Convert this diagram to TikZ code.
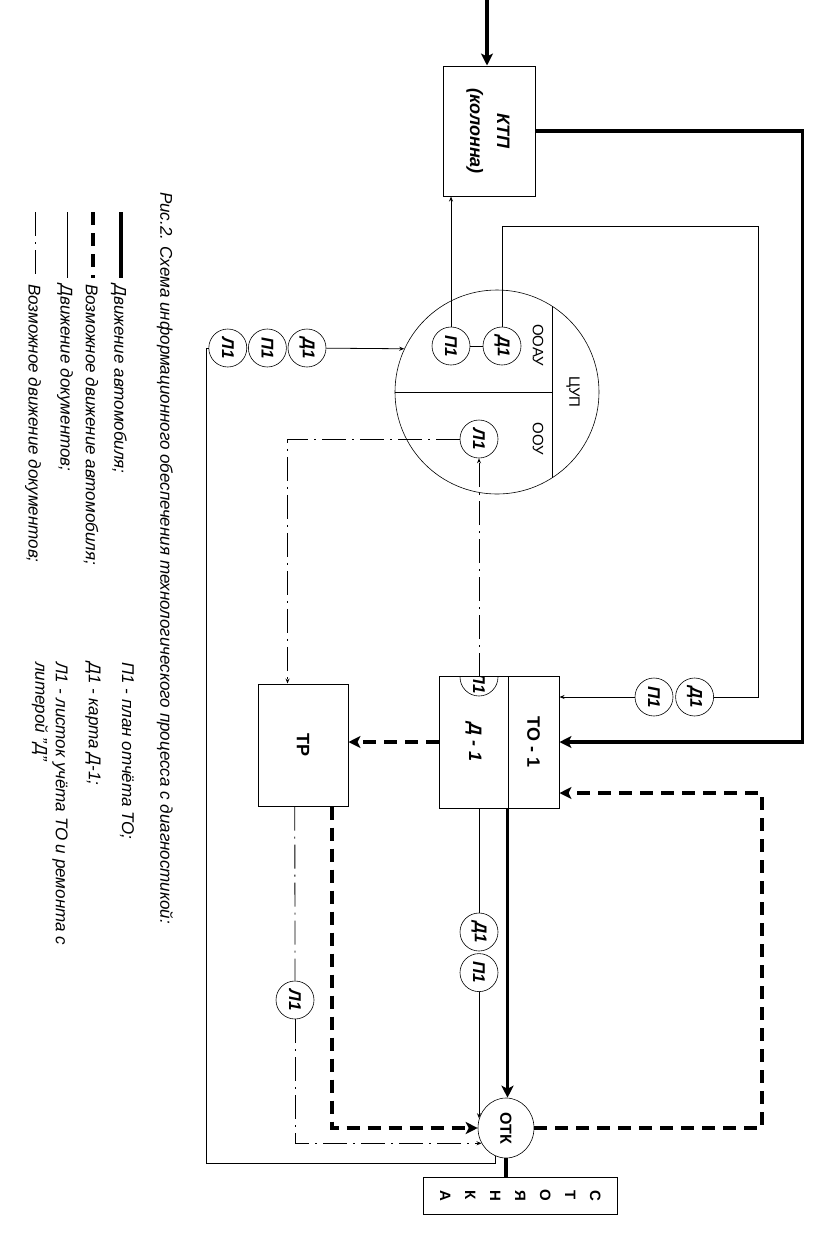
\documentclass[tikz,border=0pt]{standalone}
\usepackage{fontspec}
\setmainfont{Liberation Sans}
\usetikzlibrary{positioning,shapes.geometric,arrows.meta,calc}

\begin{document}
\begin{tikzpicture}[x=1pt,y=-1pt]
	\newcommand*{\vlabel}[1]{\rotatebox{-90}{#1}}
	\tikzset{
		car/.style={line width=3.5pt,>={Stealth[length=12pt,width=12pt,inset=3pt]}},
		carposs/.style={car,dash pattern=on 13pt off 8pt},
		doc/.style={line width=0.8pt,>={Stealth[length=5pt,width=4pt]}},
		docposs/.style={doc,dash pattern=on 24pt off 6pt on 2pt off 6pt},
		blok/.style={draw,line width=1pt,inner sep=0pt,font=\bfseries\fontsize{18}{20}\selectfont},
		circ/.style={draw,circle,line width=0.6pt,inner sep=0pt,minimum size=38pt,font=\bfseries\itshape\fontsize{17}{19}\selectfont},
		zone/.style={inner sep=0pt,font=\fontsize{15}{17}\selectfont},
		legtext/.style={rotate=-90,anchor=west,inner sep=0pt,font=\itshape\fontsize{17}{19}\selectfont}
	}
	\useasboundingbox (0,0) rectangle (839,1240);
	\node[blok,font=\bfseries\itshape\fontsize{18}{27}\selectfont,minimum width=92pt,minimum height=130pt] (ktp) at (489,131) {\vlabel{\begin{tabular}{@{}c@{}}КТП\\(колонна)\end{tabular}}};
	\node[blok,minimum width=51pt,minimum height=132pt] (to1) at (533.5,742) {\vlabel{ТО - 1}};
	\node[blok,font=\bfseries\itshape\fontsize{18}{20}\selectfont,minimum width=69pt,minimum height=132pt] (d1) at (473.5,742) {\vlabel{Д - 1}};
	\node[blok,minimum width=90pt,minimum height=122pt] (tr) at (303,745) {\vlabel{ТР}};
	\node[blok,ellipse,line width=0.6pt,minimum width=56pt,minimum height=60pt,font=\bfseries\fontsize{16}{18}\selectfont] (otk) at (506,1128) {\vlabel{ОТК}};
	\node[blok,minimum width=194pt,minimum height=37pt,font=\bfseries\fontsize{15}{25}\selectfont] (stoyanka) at (520,1195.5) {\vlabel{\begin{tabular}{@{}c@{}}С\\Т\\О\\Я\\Н\\К\\А\end{tabular}}};
	\node[draw,circle,line width=0.6pt,minimum size=204pt,inner sep=0pt] (cup) at (497,392) {};
	\draw[line width=0.8pt] ($(cup.center)+(55,-86)$) -- ($(cup.center)+(55,86)$);
	\draw[line width=0.8pt] (cup.west) -- ($(cup.center)+(55,0)$);
	\node[zone] (cupname) at (573,392) {\vlabel{ЦУП}};
	\node[zone] (ooau) at (538,345) {\vlabel{ООАУ}};
	\node[zone] (oou) at (538,439) {\vlabel{ООУ}};
	\node[circ] (p1a) at (451,346) {\vlabel{П1}};
	\node[circ] (d1a) at (502,346) {\vlabel{Д1}};
	\node[circ] (l1a) at (479,439) {\vlabel{Л1}};
	\node[circ] (d1b) at (307,348) {\vlabel{Д1}};
	\node[circ,left=1pt of d1b] (p1b) {\vlabel{П1}};
	\node[circ,left=1pt of p1b] (l1b) {\vlabel{Л1}};
	\node[circ] (p1c) at (654,697) {\vlabel{П1}};
	\node[circ,right=2pt of p1c] (d1c) {\vlabel{Д1}};
	\node[circ] (d1d) at (479,932) {\vlabel{Д1}};
	\node[circ,below=2pt of d1d] (p1d) {\vlabel{П1}};
	\node[circ] (l1e) at (295,1000) {\vlabel{Л1}};
	\begin{scope}
		\clip (439,676) rectangle (508,808);
		\node[circ] (l1f) at (479,677) {\vlabel{\hspace{12pt}Л1}};
	\end{scope}
	\coordinate (entry) at (487,0);
	\draw[car,->] (entry) -- (entry |- ktp.north);
	\draw[car,->] (ktp.east) -- ++(267,0) |- (to1.east);
	\draw[doc,->] (p1a) -- (p1a |- ktp.south);
	\draw[doc] (p1a) -- (d1a);
	\draw[doc] (d1a) |- (758,226) |- (d1c);
	\draw[doc,->] (p1c) -- (p1c -| to1.east);
	\draw[doc,->] (d1b) -- (cup.155);
	\draw[doc] (otk.250) |- (206,1163) |- (l1b);
	\draw[docposs,->] (l1f.center) -- (l1a);
	\draw[docposs,->] (l1a) -| ($(tr.north west)!0.33!(tr.north east)$);
	\draw[carposs,->] (d1.west) -- (d1.west -| tr.east);
	\draw[car,->] (to1.south west) -- (to1.south west |- otk.north);
	\draw[doc] (d1d |- d1.south) -- (d1d);
	\draw[doc,->] (p1d) -- (p1d |- otk.160);
	\draw[carposs,->] ($(tr.south west)!0.82!(tr.south east)$) |- (otk.west);
	\draw[docposs] ($(tr.south west)!0.41!(tr.south east)$) -- (l1e);
	\draw[docposs,->] (l1e) |- (otk.212);
	\coordinate (loop) at (762,793);
	\draw[carposs,->] (otk.east) -| (loop) -- (loop -| to1.east);
	\draw[car] (otk.south) -- (otk.south |- stoyanka.north);
	\node[legtext] (caption) at (165,192) {Рис.2. Схема информационного обеспечения технологического процесса с диагностикой:};
	\foreach \st/\xx/\txt in {car/121/{Движение автомобиля;},carposs/93/{Возможное движение автомобиля;},doc/67/{Движение документов;},docposs/35/{Возможное движение документов;}} {
		\draw[\st] (\xx,212) -- (\xx,278);
		\node[legtext] (leg\xx) at (\xx-2,284) {\txt};
	}
	\node[legtext] (keyp) at (127,662) {П1 - план отчёта ТО;};
	\node[legtext] (keyd) at (93,662) {Д1 - карта Д-1;};
	\node[legtext] (keyl) at (60,662) {Л1 - листок учёта ТО и ремонта с};
	\node[legtext] (keyl2) at (40,662) {литерой "Д"};
\end{tikzpicture}
\end{document}
